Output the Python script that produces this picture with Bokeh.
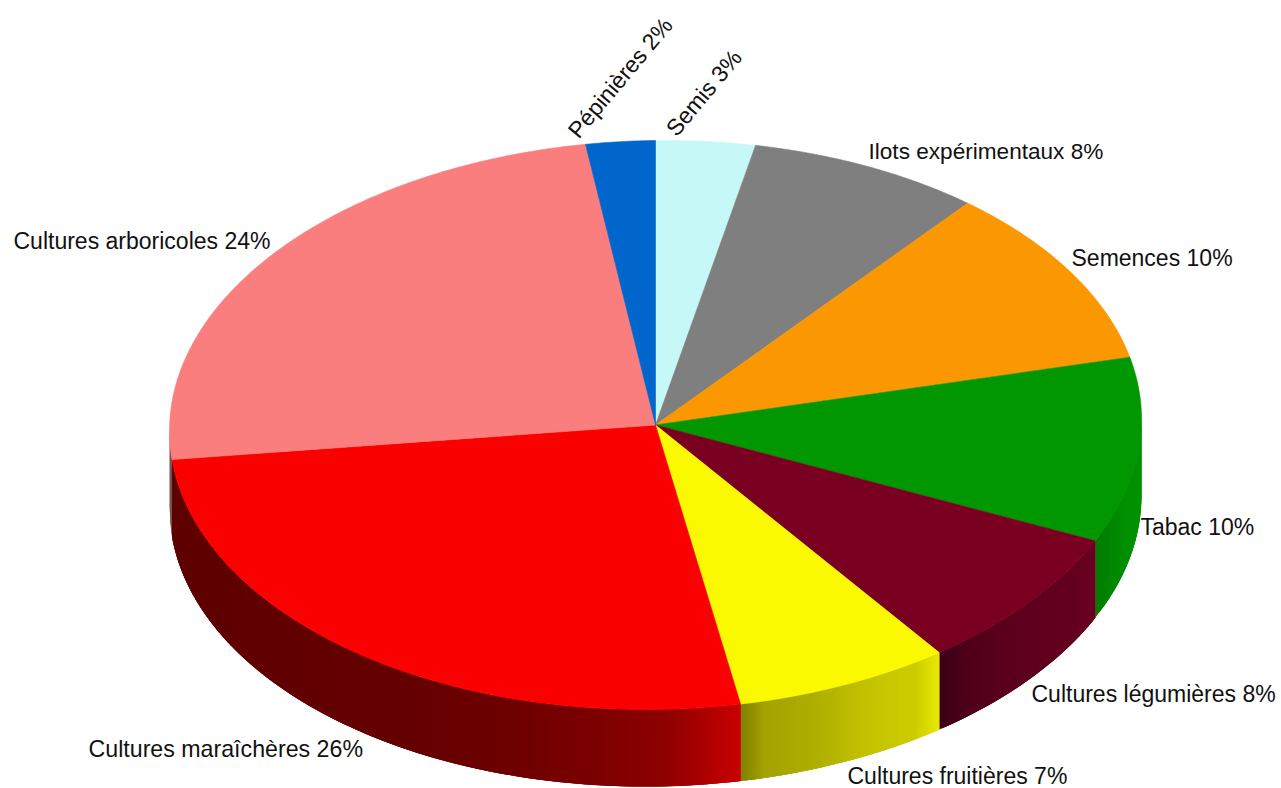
import math
from bokeh.plotting import figure
from bokeh.core.properties import value
from bokeh.embed import file_html
from bokeh.resources import INLINE

# Data, clockwise from the top of the pie
categories = ["Semis", "Ilots expérimentaux", "Semences", "Tabac", "Cultures légumières",
              "Cultures fruitières", "Cultures maraîchères", "Cultures arboricoles", "Pépinières"]
shares = [3.3, 7.8, 10.4, 10.5, 8.08, 7.12, 26.19, 24.31, 2.3]
printed_pct = [3, 8, 10, 10, 8, 7, 26, 24, 2]
top_colors = ["#c7f8f8", "#7f7f7f", "#fb9700", "#009700", "#7a0022", "#faf900", "#fb0000", "#fb7e7e", "#0066cb"]

# Side-wall shading stops (left to right across the visible wall)
wall_stops = {
    "Tabac": ["#007a00", "#008600", "#008f00", "#009200"],
    "Cultures légumières": ["#3a0014", "#50001a", "#5a001c", "#5e001e", "#62001e", "#680020"],
    "Cultures fruitières": ["#808000", "#a4a400", "#a8a800", "#aeae00", "#b8b800", "#c2c200", "#c8c800", "#cccc00", "#e8e800"],
    "Cultures maraîchères": ["#5e0000", "#600000", "#620000", "#640000", "#680000", "#700000", "#7c0000", "#900000", "#c80000"],
    "Cultures arboricoles": ["#7a5050", "#7a5050"],
}

# Label layout: left x, middle y, angle in degrees, font size in px
label_pos = {
    "Semis": (670, 132, 50, 23), "Ilots expérimentaux": (868, 151, 0, 22.6), "Semences": (1071, 257, 0, 23),
    "Tabac": (1140, 526, 0, 23), "Cultures légumières": (1031, 693, 0, 23), "Cultures fruitières": (847, 775, 0, 23),
    "Cultures maraîchères": (88, 748, 0, 23.2), "Cultures arboricoles": (13, 240, 0, 23), "Pépinières": (572, 134, 50, 23),
}

CX, CY, RX, RY, DEPTH, TILT = 655.0, 424.5, 486.0, 284.5, 77.0, 0.012


def hex_rgb(h):
    return tuple(int(h[i:i + 2], 16) for i in (1, 3, 5))


def shade(stops, f):
    f = min(max(f, 0.0), 1.0) * (len(stops) - 1)
    i = min(int(f), len(stops) - 2)
    a, b = hex_rgb(stops[i]), hex_rgb(stops[i + 1])
    u = f - i
    return "#%02x%02x%02x" % tuple(round(a[k] + (b[k] - a[k]) * u) for k in range(3))


def rim(t, dy=0.0):
    r = math.radians(t)
    dx = RX * math.sin(r)
    return CX + dx, CY + dy - RY * math.cos(r) - TILT * dx


total = sum(shares)
edges = [0.0]
for s in shares:
    edges.append(edges[-1] + 360.0 * s / total)

p = figure(width=1281, height=788, output_backend="svg", toolbar_location=None,
           x_range=(0, 1281), y_range=(788, 0), min_border=0,
           background_fill_color="white", border_fill_color="white", outline_line_color=None)
p.axis.visible = False
p.grid.visible = False

# Side walls: strips painted left to right, each running under the next one
qx, qy, qc = [], [], []
for name, a0, a1 in zip(categories, edges[:-1], edges[1:]):
    lo, hi = max(a0, 90.0), min(a1, 270.0)
    if hi <= lo or name not in wall_stops:
        continue
    xs_lo, xs_hi = rim(hi)[0], rim(lo)[0]
    n = max(int(abs(xs_hi - xs_lo) / 2), 2)
    for i in range(n):
        t0 = hi + (lo - hi) * i / n
        t1 = hi + (lo - hi) * min(i + 3, n) / n
        tc = hi + (lo - hi) * (i + 0.5) / n
        x0, y0 = rim(t0)
        x1, y1 = rim(t1)
        x2, y2 = rim(t1, DEPTH)
        x3, y3 = rim(t0, DEPTH)
        qx.append([x0, x1, x2, x3])
        qy.append([y0, y1, y2, y3])
        qc.append(shade(wall_stops[name], (rim(tc)[0] - xs_lo) / (xs_hi - xs_lo)))
p.patches(qx, qy, fill_color=qc, line_color=None)

# Top face
sx, sy = [], []
for a0, a1 in zip(edges[:-1], edges[1:]):
    n = max(int((a1 - a0) * 2), 2)
    pts = [rim(a0 + (a1 - a0) * i / n) for i in range(n + 1)]
    sx.append([CX] + [q[0] for q in pts])
    sy.append([CY] + [q[1] for q in pts])
p.patches(sx, sy, fill_color=top_colors, line_color=top_colors, line_width=0.6)

# Labels
for name, pct in zip(categories, printed_pct):
    x, y, ang, size = label_pos[name]
    p.text([x], [y], text=[f"{name} {pct}%"], angle=[ang], angle_units="deg",
           text_font=value("Liberation Sans"), text_font_size=f"{size}px",
           text_color="#111111", text_align="left", text_baseline="middle")

open("out.html", "w").write(file_html(p, INLINE))
